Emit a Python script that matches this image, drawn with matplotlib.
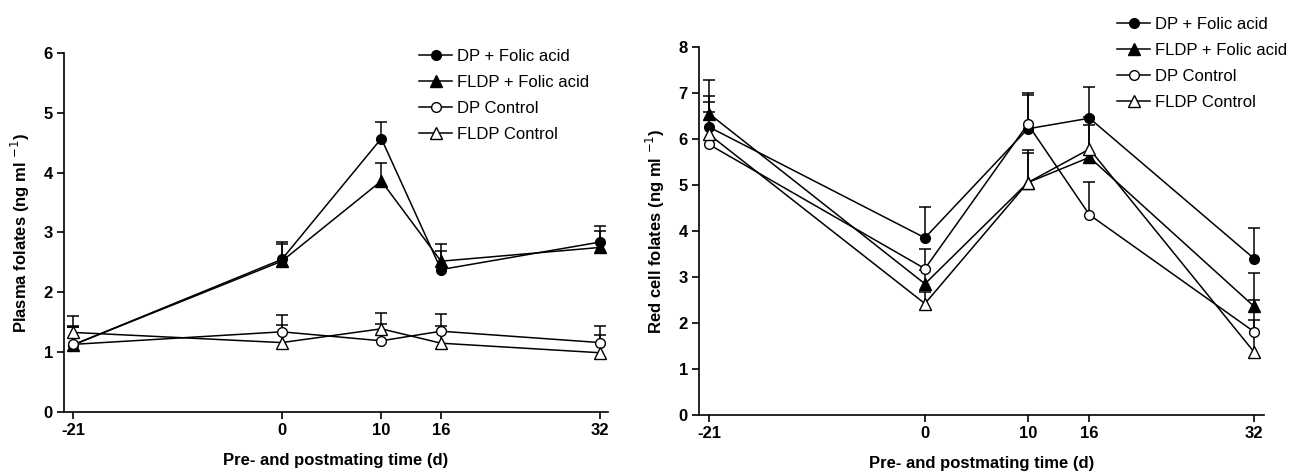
import numpy as np
import matplotlib
matplotlib.use("Agg")
import matplotlib.pyplot as plt

plt.rcParams['font.family'] = ['Liberation Sans Narrow', 'Liberation Sans', 'DejaVu Sans']

days = [-21, 0, 10, 16, 32]
day_labels = ['-21', '0', '10', '16', '32']
groups = ['DP + Folic acid', 'FLDP + Folic acid', 'DP Control', 'FLDP Control']

# plasma folates (ng/ml), mean and upper error
plasma_dp_fa = [1.12, 2.55, 4.57, 2.38, 2.84]
plasma_fldp_fa = [1.12, 2.52, 3.86, 2.52, 2.75]
plasma_dp_ctl = [1.13, 1.34, 1.19, 1.35, 1.16]
plasma_fldp_ctl = [1.33, 1.16, 1.39, 1.15, 0.99]
plasma_dp_fa_err = [0.30, 0.29, 0.28, 0.31, 0.27]
plasma_fldp_fa_err = [0.30, 0.28, 0.30, 0.29, 0.28]
plasma_dp_ctl_err = [0.30, 0.28, 0.28, 0.28, 0.28]
plasma_fldp_ctl_err = [0.28, 0.29, 0.27, 0.29, 0.30]

# red cell folates (ng/ml)
rbc_dp_fa = [6.26, 3.85, 6.22, 6.45, 3.40]
rbc_fldp_fa = [6.55, 2.85, 5.05, 5.60, 2.36]
rbc_dp_ctl = [5.88, 3.18, 6.32, 4.35, 1.81]
rbc_fldp_ctl = [6.10, 2.42, 5.05, 5.78, 1.37]
rbc_dp_fa_err = [0.68, 0.67, 0.78, 0.67, 0.66]
rbc_fldp_fa_err = [0.72, 0.30, 0.65, 0.70, 0.73]
rbc_dp_ctl_err = [0.70, 0.42, 0.63, 0.72, 0.69]
rbc_fldp_ctl_err = [0.70, 0.25, 0.71, 0.70, 0.69]

styles = [
    dict(marker='o', mfc='black', ms=7),
    dict(marker='^', mfc='black', ms=8),
    dict(marker='o', mfc='white', ms=7),
    dict(marker='^', mfc='white', ms=8.5),
]


def draw_panel(ax, means, errs, ylim, ylabel):
    for m, e in zip(means, errs):
        top = np.array(m) + np.array(e)
        ax.vlines(days, m, top, color='black', lw=1.1, zorder=2)
        ax.plot(days, top, ls='none', marker='_', ms=9, mew=1.1, color='black', zorder=2)
    for m, g, st in zip(means, groups, styles):
        ax.plot(days, m, color='black', lw=1.1, mec='black', mew=1.0,
                label=g, zorder=3, **st)
    ax.set_ylim(*ylim)
    ax.set_yticks(range(ylim[0], ylim[1] + 1))
    ax.set_xticks(days)
    ax.set_xticklabels(day_labels)
    for s in ['top', 'right']:
        ax.spines[s].set_visible(False)
    for s in ['left', 'bottom']:
        ax.spines[s].set_linewidth(1.2)
    ax.tick_params(direction='out', length=5, width=1.2, labelsize=12, pad=3)
    for t in ax.get_xticklabels() + ax.get_yticklabels():
        t.set_fontweight('bold')
    ax.set_xlabel('Pre- and postmating time (d)', fontsize=12, fontweight='bold', labelpad=11)
    ax.set_ylabel(ylabel, fontsize=12, fontweight='bold', labelpad=8)


fig = plt.figure(figsize=(13.05, 4.75), dpi=100)

ax1 = fig.add_axes([0.049, 0.1326, 0.417, 0.756])
draw_panel(ax1, [plasma_dp_fa, plasma_fldp_fa, plasma_dp_ctl, plasma_fldp_ctl],
           [plasma_dp_fa_err, plasma_fldp_fa_err, plasma_dp_ctl_err, plasma_fldp_ctl_err],
           (0, 6), 'Plasma folates (ng ml $^{-1}$)')
ax1.set_xlim(-21.9, 32.8)
ax1.legend(loc='upper left', bbox_to_anchor=(0.321, 0.897), bbox_transform=fig.transFigure,
           frameon=False, fontsize=12, handlelength=2.0, handletextpad=0.3,
           labelspacing=0.66, borderpad=0, borderaxespad=0)

ax2 = fig.add_axes([0.5356, 0.1263, 0.433, 0.775])
draw_panel(ax2, [rbc_dp_fa, rbc_fldp_fa, rbc_dp_ctl, rbc_fldp_ctl],
           [rbc_dp_fa_err, rbc_fldp_fa_err, rbc_dp_ctl_err, rbc_fldp_ctl_err],
           (0, 8), 'Red cell folates (ng ml $^{-1}$)')
ax2.set_xlim(-21.97, 32.97)
ax2.legend(loc='upper left', bbox_to_anchor=(0.856, 0.964), bbox_transform=fig.transFigure,
           frameon=False, fontsize=12, handlelength=2.0, handletextpad=0.3,
           labelspacing=0.66, borderpad=0, borderaxespad=0)

fig.savefig('out.png', dpi=100)
